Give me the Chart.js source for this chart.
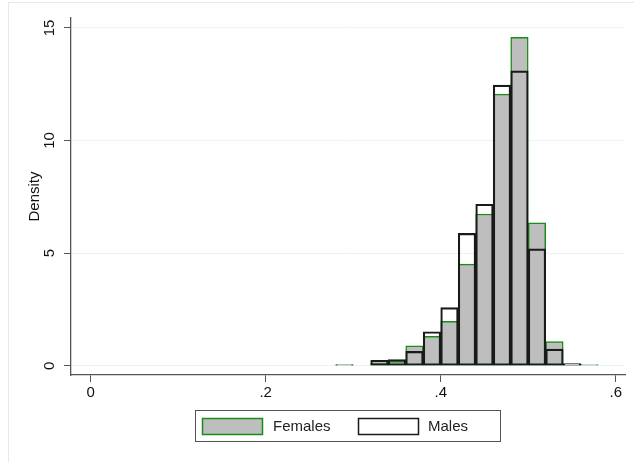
<!DOCTYPE html>
<html>
<head>
<meta charset="utf-8">
<script src="https://cdn.jsdelivr.net/npm/chart.js@4/dist/chart.umd.min.js"></script>
<style>
  html, body { margin: 0; padding: 0; background: #ffffff; }
  #wrap { width: 634px; height: 462px; position: relative; }
</style>
</head>
<body>
<div id="wrap"><canvas id="c" width="634" height="462"></canvas></div>
<script>
// Bin centres (bin width 0.02)
const binCenters = [0.29, 0.31, 0.33, 0.35, 0.37, 0.39, 0.41, 0.43, 0.45, 0.47, 0.49, 0.51, 0.53, 0.55, 0.57];
const femalesDensity = [0.05, 0, 0.12, 0.20, 0.89, 1.31, 1.97, 4.51, 6.74, 12.06, 14.58, 6.35, 1.07, 0.03, 0.05];
const malesDensity   = [0.04, 0, 0.24, 0.28, 0.64, 1.51, 2.58, 5.88, 7.17, 12.46, 13.09, 5.19, 0.74, 0.10, 0];
const xTickValues = [0, 0.2, 0.4, 0.6];
const xTickLabels = ['0', '.2', '.4', '.6'];
const yTickValues = [0, 5, 10, 15];
const seriesLabels = ['Females', 'Males'];

const FONT = 'Liberation Sans, Arial, Helvetica, sans-serif';

const toPoints = (vals) => binCenters.map((x, i) => ({ x: x, y: vals[i] }));

const framePlugin = {
  id: 'frame',
  beforeDraw(chart) {
    const ctx = chart.ctx;
    ctx.save();
    ctx.fillStyle = '#ffffff';
    ctx.fillRect(0, 0, chart.width, chart.height);
    ctx.strokeStyle = '#e2ecec';
    ctx.lineWidth = 1;
    ctx.strokeRect(8.5, 2.5, 700, 600);
    ctx.restore();
  }
};

const legendPlugin = {
  id: 'stataLegend',
  afterDraw(chart) {
    const ctx = chart.ctx;
    const ds = chart.data.datasets;
    ctx.save();
    ctx.strokeStyle = '#555555';
    ctx.lineWidth = 1;
    ctx.strokeRect(195.5, 410.5, 305, 31);
    const items = [
      { box: 202, text: 273 },
      { box: 358, text: 428 }
    ];
    ctx.font = '15px ' + FONT;
    ctx.textBaseline = 'middle';
    ctx.textAlign = 'left';
    items.forEach((it, i) => {
      const d = ds[i];
      ctx.fillStyle = d.backgroundColor;
      ctx.fillRect(it.box, 418, 61, 17);
      ctx.strokeStyle = d.borderColor;
      ctx.lineWidth = 1.5;
      ctx.strokeRect(it.box + 0.5, 418.5, 60, 16);
      ctx.fillStyle = '#222222';
      ctx.fillText(d.label, it.text, 427);
    });
    ctx.restore();
  }
};

new Chart(document.getElementById('c'), {
  type: 'bar',
  data: {
    datasets: [
      {
        label: seriesLabels[0],
        data: toPoints(femalesDensity),
        backgroundColor: '#bebebe',
        borderColor: '#1a8c1a',
        borderWidth: 1.5,
        borderSkipped: false,
        grouped: false,
        barPercentage: 1,
        categoryPercentage: 1,
        order: 2
      },
      {
        label: seriesLabels[1],
        data: toPoints(malesDensity),
        backgroundColor: 'rgba(255,255,255,0)',
        borderColor: '#1a1a1a',
        borderWidth: 1.5,
        borderSkipped: false,
        grouped: false,
        barPercentage: 1,
        categoryPercentage: 1,
        order: 1
      }
    ]
  },
  options: {
    responsive: false,
    animation: false,
    devicePixelRatio: 1,
    layout: { padding: { left: 26, top: 18, right: 9, bottom: 57 } },
    plugins: {
      legend: { display: false },
      tooltip: { enabled: false }
    },
    scales: {
      x: {
        type: 'linear',
        offset: false,
        min: -0.0225,
        max: 0.6106,
        afterBuildTicks(scale) {
          scale.ticks = xTickValues.map(v => ({ value: v }));
        },
        afterFit(scale) { scale.height = 30; },
        ticks: {
          autoSkip: false,
          maxRotation: 0,
          minRotation: 0,
          padding: 2,
          color: '#111111',
          font: { family: FONT, size: 15 },
          callback: (v) => {
            const i = xTickValues.findIndex(t => Math.abs(t - v) < 1e-9);
            return i >= 0 ? xTickLabels[i] : '';
          }
        },
        grid: {
          offset: false,
          drawOnChartArea: false,
          drawTicks: true,
          tickLength: 7,
          tickColor: '#555555',
          tickWidth: 1
        },
        border: { display: true, color: '#555555', width: 1.3 }
      },
      y: {
        type: 'linear',
        min: -0.41,
        max: 15.44,
        afterBuildTicks(scale) {
          scale.ticks = yTickValues.map(v => ({ value: v }));
        },
        afterFit(scale) { scale.width = 45; },
        ticks: {
          autoSkip: false,
          minRotation: 90,
          maxRotation: 90,
          crossAlign: 'center',
          padding: 6,
          color: '#111111',
          font: { family: FONT, size: 15 },
          callback: (v) => String(v)
        },
        grid: {
          drawOnChartArea: true,
          color: '#eaf2f3',
          lineWidth: 1,
          drawTicks: true,
          tickLength: 7,
          tickColor: '#555555',
          tickWidth: 1
        },
        border: { display: true, color: '#555555', width: 1.3 },
        title: {
          display: true,
          text: 'Density',
          color: '#111111',
          font: { family: FONT, size: 15 },
          padding: { top: 0, bottom: 0 }
        }
      }
    }
  },
  plugins: [framePlugin, legendPlugin]
});
</script>
</body>
</html>
